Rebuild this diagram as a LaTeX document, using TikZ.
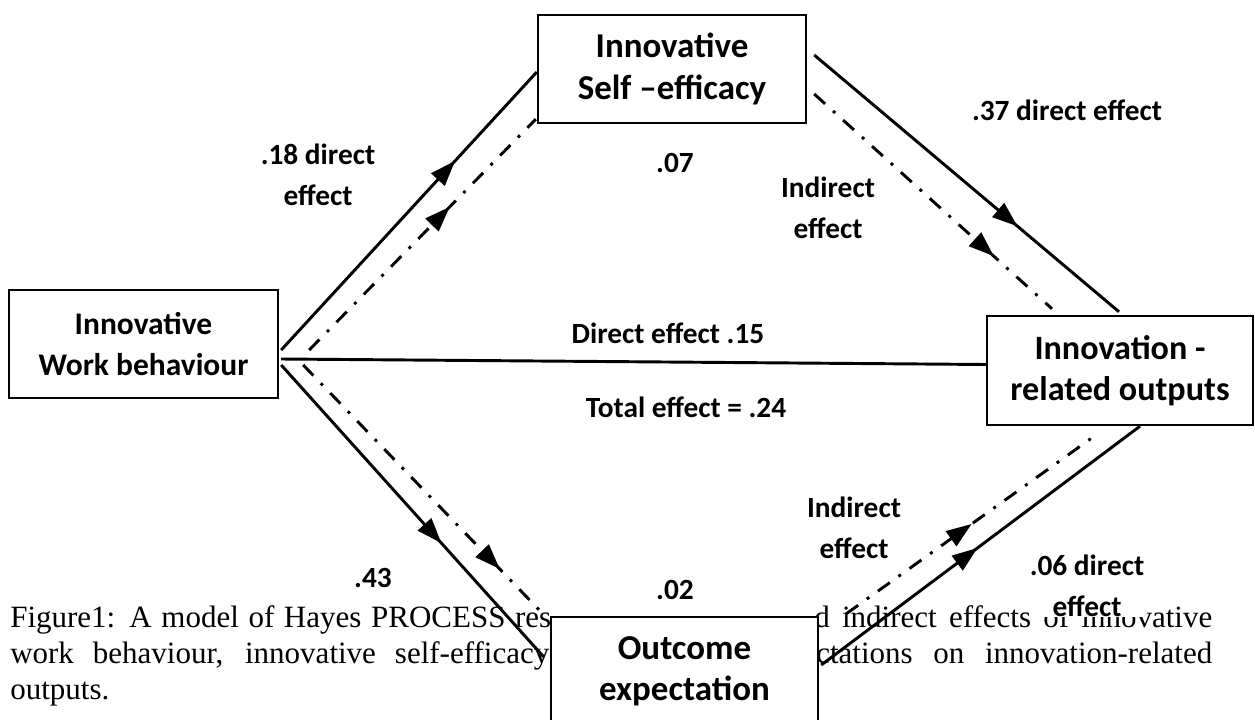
\documentclass[tikz,border=0pt]{standalone}
\usepackage{fontspec}
\setmainfont{Carlito}
\newfontfamily\capfont{Liberation Serif}
\usetikzlibrary{calc,arrows.meta,decorations.markings}
\begin{document}
\begin{tikzpicture}[x=0.75pt,y=-0.75pt,
  varbox/.style={draw, line width=1.8pt, fill=white, inner sep=0pt, align=center,
    font=\fontsize{#1}{31pt}\selectfont\bfseries},
  varbox/.default=26pt,
  lbl/.style={fill=white, inner sep=1pt, align=center,
    font=\fontsize{22pt}{30.75pt}\selectfont\bfseries},
  captext/.style={inner sep=0pt, anchor=base west,
    font=\capfont\fontsize{23.25pt}{27pt}\selectfont},
  conn/.style={line width=2.2pt},
  dd/.style={line width=2.2pt, dash pattern=on 11pt off 8pt on 2.2pt off 8pt},
  mk/.style={postaction={decorate}, decoration={markings,
    mark=at position #1 with {\arrow{Triangle[length=19pt,width=13.5pt]}}}}
]
\useasboundingbox[fill=white] (0,0) rectangle (1255,720);

% caption (partly hidden by the Outcome box)
\node[captext] (c1a) at (10,627) {\makebox[405.75pt][s]{Figure1: A model of Hayes PROCESS res}};
\node[captext] (c1b) at (814,627) {\makebox[298.5pt][s]{d indirect effects of innovative}};
\node[captext] (c2a) at (10,663) {\makebox[404.25pt][s]{work behaviour, innovative self-efficacy}};
\node[captext] (c2b) at (816,663) {\makebox[297pt][s]{ctations on innovation-related}};
\node[captext] (c3) at (10,699) {outputs.};

% boxes
\node[varbox=23.6pt, minimum width=201.75pt, minimum height=81pt] (iwb) at (143.5,344) {Innovative\\Work behaviour};
\node[varbox=26.2pt, minimum width=201pt, minimum height=81pt] (ise) at (672,69) {Innovative\\Self –efficacy};
\node[varbox=25.6pt, minimum width=199.5pt, minimum height=81.75pt] (iro) at (1120,370.5) {Innovation -\\related outputs};
\node[varbox=26.2pt, minimum width=200.25pt, minimum height=81pt] (oe) at (684.5,671) {Outcome\\expectation};

% connectors
\draw[conn, mk=0.68] ($(iwb.east)+(2,6)$) -- ($(ise.west)+(0,3)$);
\draw[dd, mk=0.62] ($(iwb.east)+(30,6)$) -- ($(ise.south west)+(-1,-5)$);
\draw[conn, mk=0.667] ($(ise.east)+(7,-14)$) -- ($(iro.north)+(-1,-3)$);
\draw[dd, mk=0.755] ($(ise.east)+(7,25)$) -- ($(iro.north)+(-68,-6)$);
\draw[conn] ($(iwb.east)+(2,15)$) -- ($(iro.west)+(0,-6)$);
\draw[conn, mk=0.61] ($(iwb.east)+(2,21)$) -- ($(oe.west)+(-6,-14)$);
\draw[dd, mk=0.81] ($(iwb.east)+(24,21)$) -- ($(oe.north west)+(-4,1)$);
\draw[conn, mk=0.49] ($(oe.east)+(2,-6)$) -- ($(iro.south)+(20,0)$);
\draw[dd, mk=0.5] ($(oe.north east)+(27,-2)$) -- ($(iro.south)+(-23,8)$);

% labels
\node[lbl] (l18) at (318,175) {.18 direct\\effect};
\node[lbl] (l07) at (675,163) {.07};
\node[lbl] (li1) at (828,208) {Indirect\\effect};
\node[lbl] (l37) at (1067,110) {.37 direct effect};
\node[lbl] (l15) at (668,333) {Direct effect .15};
\node[lbl] (ltot) at (686,407) {Total effect = .24};
\node[lbl] (li2) at (854,528) {Indirect\\effect};
\node[lbl] (l43) at (373,578) {.43};
\node[lbl] (l02) at (675,590) {.02};
\node[lbl, inner sep=0pt] (l06) at (1087,586) {.06 direct\\effect};
\end{tikzpicture}
\end{document}
